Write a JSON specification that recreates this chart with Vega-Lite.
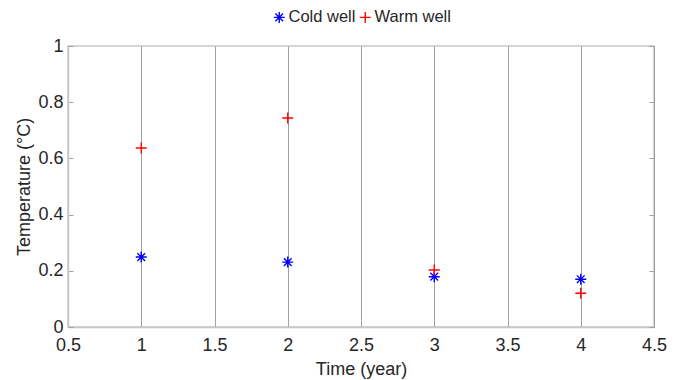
{
  "$schema": "https://vega.github.io/schema/vega-lite/v6.json",
  "width": 586,
  "height": 281,
  "autosize": {"type": "none"},
  "padding": {"left": 68, "top": 46, "right": 31, "bottom": 53},
  "background": "white",
  "config": {
    "font": "Liberation Sans",
    "view": {"stroke": "#c8c8c8", "strokeWidth": 1.5},
    "axis": {
      "labelFont": "Liberation Sans",
      "titleFont": "Liberation Sans",
      "labelFontSize": 18,
      "titleFontSize": 18,
      "labelColor": "#262626",
      "titleColor": "#262626",
      "titleFontWeight": "normal",
      "domainColor": "#c8c8c8",
      "domainWidth": 1.5,
      "tickColor": "#a0a0a0"
    },
    "legend": {"labelFont": "Liberation Sans"}
  },
  "data": {
    "values": [
      {"year": 1, "well": "Cold well", "temp": 0.249},
      {"year": 2, "well": "Cold well", "temp": 0.231},
      {"year": 3, "well": "Cold well", "temp": 0.179},
      {"year": 4, "well": "Cold well", "temp": 0.170},
      {"year": 1, "well": "Warm well", "temp": 0.637},
      {"year": 2, "well": "Warm well", "temp": 0.744},
      {"year": 3, "well": "Warm well", "temp": 0.203},
      {"year": 4, "well": "Warm well", "temp": 0.120}
    ]
  },
  "layer": [
    {
      "mark": {"type": "point", "filled": false, "strokeWidth": 1.4, "opacity": 1, "size": 121},
      "encoding": {
        "x": {
          "field": "year", "type": "quantitative",
          "scale": {"domain": [0.5, 4.5], "nice": false, "zero": false},
          "axis": {
            "title": "Time (year)",
            "values": [0.5, 1, 1.5, 2, 2.5, 3, 3.5, 4, 4.5],
            "format": "~g",
            "grid": true, "gridColor": "#a0a0a0", "gridWidth": 1, "gridOpacity": 1,
            "ticks": false,
            "labelPadding": 9,
            "titlePadding": 6,
            "labelFlush": false
          }
        },
        "y": {
          "field": "temp", "type": "quantitative",
          "scale": {"domain": [0, 1], "nice": false},
          "axis": {
            "title": "Temperature (°C)",
            "values": [0, 0.2, 0.4, 0.6, 0.8, 1],
            "format": "~g",
            "grid": false,
            "ticks": true, "tickSize": -5,
            "labelPadding": 10,
            "titlePadding": 4,
            "labelFlush": false
          }
        },
        "color": {
          "field": "well", "type": "nominal",
          "scale": {"domain": ["Cold well", "Warm well"], "range": ["#0000ff", "#ff0000"]},
          "legend": {
            "title": null,
            "orient": "none",
            "direction": "horizontal",
            "legendX": 203,
            "legendY": -37,
            "labelFontSize": 16.5,
            "labelColor": "#262626",
            "symbolSize": 121,
            "symbolStrokeWidth": 1.4,
            "symbolFillColor": "transparent",
            "labelOffset": 1,
            "columnPadding": 0
          }
        },
        "shape": {
          "field": "well", "type": "nominal",
          "scale": {
            "domain": ["Cold well", "Warm well"],
            "range": [
              "M-1,0L1,0M0,-1L0,1M-0.7,-0.7L0.7,0.7M-0.7,0.7L0.7,-0.7",
              "M-1,0L1,0M0,-1L0,1"
            ]
          },
          "legend": null
        }
      }
    },
    {
      "mark": {"type": "point", "opacity": 0},
      "encoding": {
        "x": {"field": "year", "type": "quantitative"},
        "y": {
          "field": "temp", "type": "quantitative",
          "axis": {
            "orient": "right", "title": null, "labels": false, "domain": false,
            "values": [0, 0.2, 0.4, 0.6, 0.8, 1],
            "ticks": true, "tickSize": -5, "grid": false
          }
        }
      }
    }
  ],
  "resolve": {"axis": {"y": "independent"}}
}
